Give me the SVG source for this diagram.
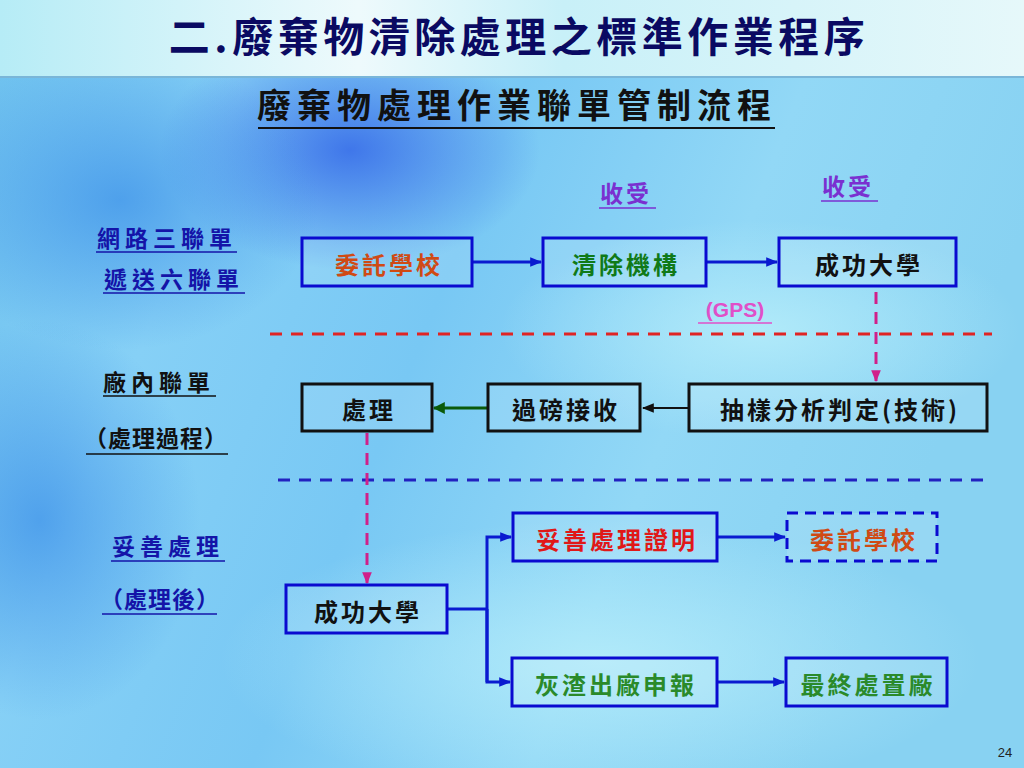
<svg xmlns="http://www.w3.org/2000/svg" width="1024" height="768" viewBox="0 0 1024 768">
<defs>
<linearGradient id="bg" x1="0" y1="0" x2="1" y2="0.3">
<stop offset="0" stop-color="#6cc0ee"/>
<stop offset="0.25" stop-color="#86d0f6"/>
<stop offset="0.5" stop-color="#78c8f4"/>
<stop offset="0.75" stop-color="#92d8f6"/>
<stop offset="1" stop-color="#88d2f2"/>
</linearGradient>
<linearGradient id="top" x1="0" y1="0" x2="1" y2="0">
<stop offset="0" stop-color="#b6ecf6"/>
<stop offset="0.35" stop-color="#eefafc"/>
<stop offset="0.55" stop-color="#c8f0f8"/>
<stop offset="1" stop-color="#e6f8fa"/>
</linearGradient>
<radialGradient id="blob" cx="0.5" cy="0.5" r="0.5">
<stop offset="0" stop-color="#2a5ae6" stop-opacity="0.75"/>
<stop offset="1" stop-color="#2a5ae6" stop-opacity="0"/>
</radialGradient>
<radialGradient id="blob2" cx="0.5" cy="0.5" r="0.5">
<stop offset="0" stop-color="#3a8ee8" stop-opacity="0.7"/>
<stop offset="1" stop-color="#3a8ee8" stop-opacity="0"/>
</radialGradient>
<radialGradient id="light" cx="0.5" cy="0.5" r="0.5">
<stop offset="0" stop-color="#b4ecfa" stop-opacity="0.9"/>
<stop offset="1" stop-color="#b4ecfa" stop-opacity="0"/>
</radialGradient>
<marker id="ab" viewBox="0 0 10 10" refX="9" refY="5" markerWidth="4" markerHeight="4" orient="auto" markerUnits="strokeWidth"><path d="M0,1 L10,5 L0,9 z" fill="#0a1ad0"/></marker>
<marker id="ak" viewBox="0 0 10 10" refX="9" refY="5" markerWidth="6" markerHeight="6" orient="auto" markerUnits="strokeWidth"><path d="M0,1 L10,5 L0,9 z" fill="#111"/></marker>
<marker id="ag" viewBox="0 0 10 10" refX="9" refY="5" markerWidth="4" markerHeight="4" orient="auto" markerUnits="strokeWidth"><path d="M0,0 L10,5 L0,10 z" fill="#0a5a0a"/></marker>
<marker id="ap" viewBox="0 0 10 10" refX="9" refY="5" markerWidth="4" markerHeight="4" orient="auto" markerUnits="strokeWidth"><path d="M0,1 L10,5 L0,9 z" fill="#d0208a"/></marker>
<style>
text{font-family:"Noto Sans CJK TC","Noto Sans CJK SC",sans-serif;font-weight:bold}
.node{font-size:24px;letter-spacing:3px;text-anchor:middle;dominant-baseline:central}
.bb{fill:#ffffff;fill-opacity:0.12;stroke:#0a0ad0;stroke-width:3}
.kb{fill:#ffffff;fill-opacity:0.12;stroke:#111;stroke-width:3}
.lbl{font-size:23px;letter-spacing:5px}
.con{fill:none;stroke:#0a1ad0;stroke-width:3}
</style>
</defs>
<rect x="0" y="0" width="1024" height="768" fill="url(#bg)"/>
<ellipse cx="350" cy="150" rx="190" ry="120" fill="url(#blob)"/>
<ellipse cx="120" cy="200" rx="200" ry="150" fill="url(#blob2)"/>
<ellipse cx="40" cy="520" rx="160" ry="200" fill="url(#blob2)"/>
<ellipse cx="600" cy="660" rx="380" ry="140" fill="url(#light)"/>
<ellipse cx="760" cy="330" rx="260" ry="110" fill="url(#light)"/>
<rect x="0" y="0" width="1024" height="76" fill="url(#top)"/>
<rect x="0" y="76" width="1024" height="2" fill="#7ab6d8"/>

<text x="519" y="52" font-size="41" fill="#0a0a62" text-anchor="middle" letter-spacing="4.5">二.廢棄物清除處理之標準作業程序</text>
<text x="517" y="118" font-size="34" fill="#111" text-anchor="middle" letter-spacing="6">廢棄物處理作業聯單管制流程</text>
<line x1="258" y1="128" x2="775" y2="128" stroke="#111" stroke-width="2"/>

<g id="labels">
<text class="lbl" x="97" y="247" fill="#1414a8">網路三聯單</text>
<line x1="96" y1="252" x2="237" y2="252" stroke="#1414a8" stroke-width="1.5"/>
<text class="lbl" x="104" y="288" fill="#1414a8">遞送六聯單</text>
<line x1="103" y1="293" x2="245" y2="293" stroke="#1414a8" stroke-width="1.5"/>
<text class="lbl" x="103" y="391" fill="#111" letter-spacing="6">廠內聯單</text>
<line x1="103" y1="396" x2="216" y2="396" stroke="#111" stroke-width="1.5"/>
<text x="84" y="447" font-size="23" fill="#111" letter-spacing="1">（處理過程）</text>
<line x1="86" y1="454" x2="228" y2="454" stroke="#111" stroke-width="1.5"/>
<text class="lbl" x="112" y="555" fill="#1414a8" letter-spacing="6">妥善處理</text>
<line x1="111" y1="561" x2="225" y2="561" stroke="#1414a8" stroke-width="1.5"/>
<text x="100" y="608" font-size="23" fill="#1414a8" letter-spacing="1">（處理後）</text>
<line x1="102" y1="614" x2="217" y2="614" stroke="#1414a8" stroke-width="1.5"/>
<text x="600" y="202" font-size="23" fill="#7a30d0" letter-spacing="3">收受</text>
<line x1="599" y1="208" x2="656" y2="208" stroke="#7a30d0" stroke-width="1.5"/>
<text x="822" y="195" font-size="23" fill="#7a30d0" letter-spacing="3">收受</text>
<line x1="821" y1="201" x2="878" y2="201" stroke="#7a30d0" stroke-width="1.5"/>
<text x="735" y="317" fill="#e050c8" text-anchor="middle" style="font-family:'Liberation Sans',Arial,sans-serif;font-size:21px;font-weight:bold">(GPS)</text>
<line x1="698" y1="323" x2="772" y2="323" stroke="#e050c8" stroke-width="1.5"/>
</g>

<g id="dividers">
<line x1="270" y1="334" x2="992" y2="334" stroke="#e02424" stroke-width="3" stroke-dasharray="12,9"/>
<line x1="278" y1="480" x2="992" y2="480" stroke="#2222c0" stroke-width="3" stroke-dasharray="12,9"/>
</g>

<g id="connectors">
<line class="con" x1="472" y1="262" x2="541" y2="262" marker-end="url(#ab)"/>
<line class="con" x1="706" y1="262" x2="777" y2="262" marker-end="url(#ab)"/>
<line x1="876" y1="292" x2="876" y2="381" stroke="#d0208a" stroke-width="3" stroke-dasharray="12,8" marker-end="url(#ap)"/>
<line x1="689" y1="408" x2="643" y2="408" stroke="#111" stroke-width="2" marker-end="url(#ak)"/>
<line x1="488" y1="408" x2="434" y2="408" stroke="#0a5a0a" stroke-width="3" marker-end="url(#ag)"/>
<line x1="367" y1="433" x2="367" y2="583" stroke="#d0208a" stroke-width="3" stroke-dasharray="12,8" marker-end="url(#ap)"/>
<polyline class="con" points="447,609 487,609"/>
<polyline class="con" points="487,682 487,537 511,537" marker-end="url(#ab)"/>
<polyline class="con" points="487,609 487,682 510,682" marker-end="url(#ab)"/>
<line class="con" x1="717" y1="537" x2="785" y2="537" marker-end="url(#ab)"/>
<line class="con" x1="717" y1="682" x2="784" y2="682" marker-end="url(#ab)"/>
</g>

<g id="n1"><rect class="bb" x="302" y="238" width="170" height="48"/><text class="node" x="389" y="263" fill="#d04a14">委託學校</text></g>
<g id="n2"><rect class="bb" x="543" y="238" width="163" height="48"/><text class="node" x="626" y="263" fill="#107a18">清除機構</text></g>
<g id="n3"><rect class="bb" x="779" y="238" width="177" height="48"/><text class="node" x="869" y="263" fill="#111">成功大學</text></g>
<g id="n4"><rect class="kb" x="302" y="384" width="130" height="47"/><text class="node" x="369" y="408" fill="#111">處理</text></g>
<g id="n5"><rect class="kb" x="488" y="384" width="152" height="47"/><text class="node" x="566" y="408" fill="#111">過磅接收</text></g>
<g id="n6"><rect class="kb" x="689" y="384" width="298" height="47"/><text class="node" x="840" y="408" fill="#111" letter-spacing="3">抽樣分析判定(技術)</text></g>
<g id="n7"><rect class="bb" x="286" y="585" width="161" height="48"/><text class="node" x="368" y="610" fill="#111">成功大學</text></g>
<g id="n8"><rect class="bb" x="513" y="513" width="204" height="48"/><text class="node" x="617" y="538" fill="#e01818">妥善處理證明</text></g>
<g id="n9"><rect class="bb" x="787" y="513" width="150" height="48" stroke-dasharray="11,7"/><text class="node" x="864" y="538" fill="#d04a14">委託學校</text></g>
<g id="n10"><rect class="bb" x="512" y="658" width="205" height="48"/><text class="node" x="616" y="683" fill="#2a8a2a">灰渣出廠申報</text></g>
<g id="n11"><rect class="bb" x="786" y="658" width="161" height="48"/><text class="node" x="868" y="683" fill="#2a8a2a">最終處置廠</text></g>

<text x="1005" y="757" fill="#222" text-anchor="middle" style="font-family:'Liberation Sans',Arial,sans-serif;font-size:13px;font-weight:normal">24</text>
</svg>
